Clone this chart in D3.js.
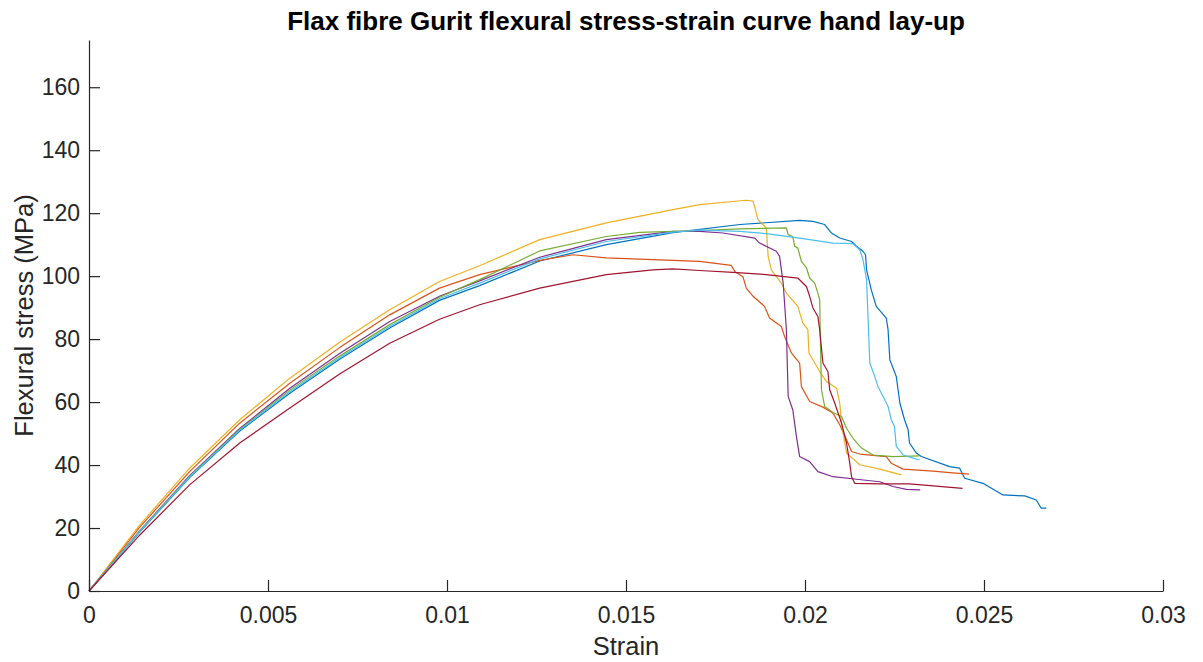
<!DOCTYPE html>
<html>
<head>
  <meta charset="utf-8">
  <script src="https://cdnjs.cloudflare.com/ajax/libs/d3/7.8.5/d3.min.js"></script>
  <title>Flax fibre Gurit flexural stress-strain curve</title>
  <style>
    body { margin: 0; background: #fff; }
    text { font-family: "Liberation Sans", Arial, sans-serif; fill: #262626; }
    .axis path, .axis line { stroke: #262626; stroke-width: 1.2; }
    .axis text { font-size: 23px; }
  </style>
</head>
<body>
<script>
// [strain, flexural stress MPa], one array per specimen
const specimen1 = [[0,0],[0.00142,18.8],[0.00281,36.0],[0.00421,50.8],[0.00561,62.8],[0.0070,73.6],[0.0084,83.5],[0.00979,92.3],[0.01091,97.0],[0.01259,104.8],[0.01445,110.0],[0.01631,113.8],[0.01818,116.4],[0.01985,117.7],[0.02022,117.4],[0.02055,116.4],[0.02074,113.7],[0.02097,112.1],[0.02130,111.0],[0.02144,109.5],[0.02162,107.9],[0.02169,106.8],[0.02172,102.0],[0.02185,95.7],[0.02199,90.4],[0.02227,86.7],[0.02232,83.0],[0.02237,73.4],[0.02255,68.1],[0.02265,59.7],[0.02278,54.4],[0.02288,51.2],[0.02292,47.0],[0.02311,43.8],[0.02325,42.7],[0.02404,39.5],[0.02432,39.0],[0.02446,35.8],[0.02497,34.2],[0.02553,30.5],[0.02614,30.2],[0.02646,28.9],[0.02660,26.3],[0.02674,26.3]];
const specimen2 = [[0,0],[0.00142,20.3],[0.00281,37.9],[0.00421,53.3],[0.00561,66.0],[0.0070,77.3],[0.0084,87.7],[0.00979,96.2],[0.01091,100.5],[0.01171,102.6],[0.01259,105.0],[0.01352,106.8],[0.01445,105.8],[0.01631,105.0],[0.01706,104.7],[0.01794,103.4],[0.01804,101.5],[0.01827,99.7],[0.01836,96.2],[0.01855,93.6],[0.01887,90.4],[0.01901,86.7],[0.01934,84.0],[0.01943,80.8],[0.01962,75.6],[0.01985,72.4],[0.01990,64.9],[0.02013,60.2],[0.02050,58.4],[0.02078,56.5],[0.02097,52.8],[0.02116,48.0],[0.02130,44.3],[0.02153,43.5],[0.02227,42.7],[0.02241,40.6],[0.02274,38.7],[0.02358,38.1],[0.02404,37.6],[0.02458,37.1]];
const specimen3 = [[0,0],[0.00142,21.0],[0.00281,39.0],[0.00421,54.4],[0.00561,67.6],[0.0070,79.0],[0.0084,89.3],[0.00979,98.3],[0.01091,103.3],[0.01259,111.6],[0.01445,116.9],[0.01631,121.1],[0.01706,122.7],[0.01836,124.1],[0.01855,123.8],[0.01869,117.9],[0.01892,115.3],[0.01897,106.3],[0.01906,102.0],[0.01934,97.8],[0.01948,94.6],[0.01980,90.4],[0.01994,85.1],[0.02008,83.0],[0.02011,75.6],[0.02041,69.7],[0.02060,66.5],[0.02088,64.4],[0.02097,59.7],[0.02102,53.3],[0.02116,43.8],[0.02153,40.1],[0.02209,38.7],[0.02269,36.9]];
const specimen4 = [[0,0],[0.00142,19.2],[0.00281,36.6],[0.00421,51.6],[0.00561,64.4],[0.0070,75.4],[0.0084,85.6],[0.00979,93.6],[0.01091,98.5],[0.01259,106.0],[0.01445,111.6],[0.01631,114.2],[0.01706,114.2],[0.01771,113.7],[0.01860,112.1],[0.01873,110.5],[0.01920,107.9],[0.01929,106.3],[0.01939,97.8],[0.01948,83.0],[0.01953,61.8],[0.01966,57.5],[0.01976,49.1],[0.01985,42.7],[0.02013,41.1],[0.02036,37.9],[0.02078,36.3],[0.02144,35.5],[0.02209,34.7],[0.02246,33.2],[0.02283,32.3],[0.02322,32.1]];
const specimen5 = [[0,0],[0.00142,19.0],[0.00281,36.4],[0.00421,51.3],[0.00561,63.8],[0.0070,74.6],[0.0084,84.6],[0.00979,93.3],[0.01091,98.9],[0.01259,108.0],[0.01445,112.6],[0.01538,113.9],[0.01706,114.5],[0.01818,115.0],[0.01948,115.3],[0.01953,113.2],[0.01966,112.6],[0.01971,109.5],[0.01980,108.9],[0.01990,104.7],[0.02004,102.6],[0.02013,99.4],[0.02027,97.8],[0.02036,94.6],[0.02041,92.5],[0.02043,79.8],[0.02046,63.9],[0.02055,58.6],[0.02078,56.7],[0.02102,55.4],[0.02116,51.7],[0.02134,48.5],[0.02158,45.4],[0.02190,43.2],[0.02246,42.7],[0.02320,42.9]];
const specimen6 = [[0,0],[0.00142,18.9],[0.00281,36.2],[0.00421,51.1],[0.00561,63.3],[0.0070,74.1],[0.0084,84.0],[0.00979,92.8],[0.01091,97.8],[0.01259,105.5],[0.01445,111.0],[0.01631,114.0],[0.01706,114.6],[0.01818,114.2],[0.01892,113.5],[0.01985,112.1],[0.02078,110.5],[0.02134,110.3],[0.02153,108.4],[0.02162,105.2],[0.02172,98.9],[0.02176,87.2],[0.02181,72.4],[0.02195,68.1],[0.02204,64.9],[0.02218,61.8],[0.02232,58.6],[0.02241,54.4],[0.02250,52.2],[0.02255,45.9],[0.02274,43.2],[0.02302,42.2],[0.02320,41.6]];
const specimen7 = [[0,0],[0.00142,17.8],[0.00281,33.7],[0.00421,47.0],[0.00561,58.1],[0.0070,68.9],[0.0084,78.7],[0.00979,86.3],[0.01091,90.9],[0.01259,96.2],[0.01445,100.5],[0.01575,102.0],[0.01631,102.3],[0.01706,101.8],[0.01799,101.2],[0.01892,100.5],[0.01980,99.4],[0.02004,96.7],[0.02013,93.6],[0.02022,89.9],[0.02036,87.2],[0.02041,83.0],[0.02050,72.4],[0.02064,69.7],[0.02069,63.9],[0.02083,59.7],[0.02102,53.3],[0.02116,47.0],[0.02125,40.6],[0.02130,36.3],[0.02139,34.2],[0.02209,34.0],[0.02292,34.0],[0.02358,33.4],[0.02440,32.6]];

const xTicks = [0, 0.005, 0.01, 0.015, 0.02, 0.025, 0.03];
const yTicks = [0, 20, 40, 60, 80, 100, 120, 140, 160];
const colors = ["#0072BD", "#D95319", "#EDB120", "#7E2F8E", "#77AC30", "#4DBEEE", "#A2142F"];

const series = [specimen1, specimen2, specimen3, specimen4, specimen5, specimen6, specimen7];

const svg = d3.select("body").append("svg")
    .attr("width", 1203)
    .attr("height", 662);

const margin = {top: 40, right: 40, bottom: 71, left: 89};
const width = 1203 - margin.left - margin.right,
      height = 662 - margin.top - margin.bottom;

const x = d3.scaleLinear().domain([0, 0.03]).range([0, width]);
const y = d3.scaleLinear().domain([0, 175]).range([height, 0]);

const g = svg.append("g")
    .attr("transform", "translate(" + margin.left + "," + margin.top + ")");

const line = d3.line()
    .x(d => x(d[0]))
    .y(d => y(d[1]));

series.forEach(function(s, i) {
  g.append("path")
    .datum(s)
    .attr("fill", "none")
    .attr("stroke", colors[i])
    .attr("stroke-width", 1.2)
    .attr("stroke-linejoin", "round")
    .attr("d", line);
});

// axes, ticks pointing inward like matlab
g.append("g")
  .attr("class", "axis")
  .attr("transform", "translate(0," + height + ")")
  .call(d3.axisBottom(x)
    .tickValues(xTicks)
    .tickFormat(d => String(+d.toFixed(3)))
    .tickSizeInner(-11)
    .tickSizeOuter(0)
    .tickPadding(16));

g.append("g")
  .attr("class", "axis")
  .call(d3.axisLeft(y)
    .tickValues(yTicks)
    .tickSizeInner(-11)
    .tickSizeOuter(0)
    .tickPadding(9));

svg.selectAll(".axis text").attr("fill", "#262626");

// title and labels
svg.append("text")
  .attr("x", margin.left + width / 2)
  .attr("y", 30)
  .attr("text-anchor", "middle")
  .style("font-size", "26px")
  .style("font-weight", "bold")
  .style("fill", "#000")
  .text("Flax fibre Gurit flexural stress-strain curve hand lay-up");

svg.append("text")
  .attr("x", margin.left + width / 2)
  .attr("y", 655)
  .attr("text-anchor", "middle")
  .style("font-size", "25.5px")
  .text("Strain");

svg.append("text")
  .attr("transform", "translate(33," + (margin.top + height / 2) + ") rotate(-90)")
  .attr("text-anchor", "middle")
  .style("font-size", "25.5px")
  .text("Flexural stress (MPa)");
</script>
</body>
</html>
